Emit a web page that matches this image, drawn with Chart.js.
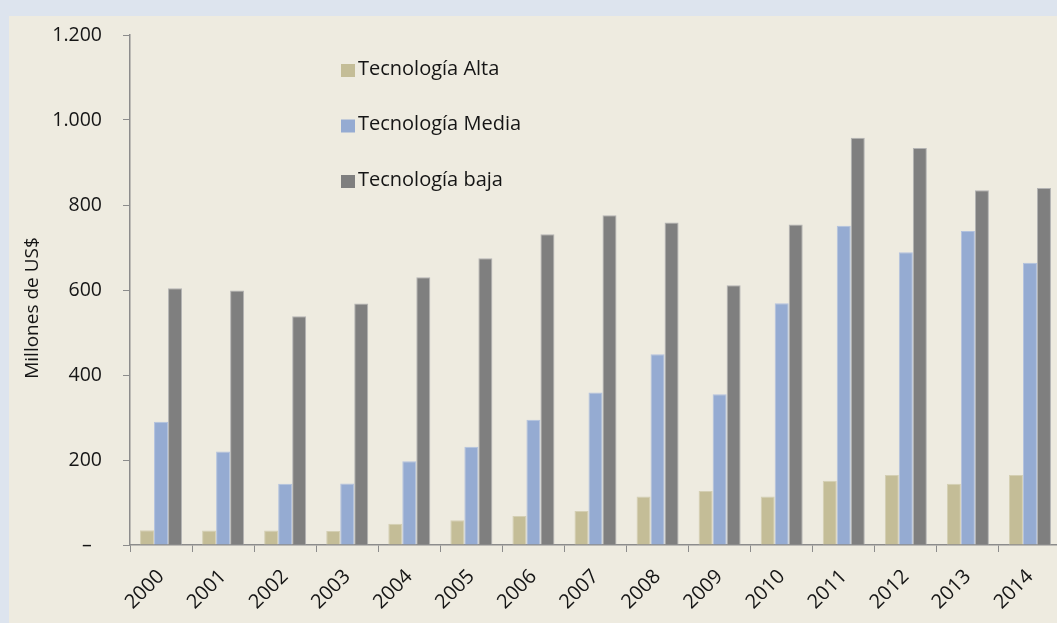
<!DOCTYPE html>
<html><head><meta charset="utf-8">
<script src="https://cdn.jsdelivr.net/npm/chart.js@4.4.0/dist/chart.umd.min.js"></script>
<style>
html,body{margin:0;padding:0;width:1057px;height:623px;overflow:hidden;background:#dde4ee;}
#panel{position:absolute;left:9px;top:16px;width:1048px;height:607px;background:#eeebe0;}
#wrap{position:absolute;left:0;top:0;width:1070px;height:623px;}
canvas{display:block;}
</style></head><body>
<div id="panel"></div>
<div id="wrap"><canvas id="c" width="1070" height="623" style="width:1070px;height:623px"></canvas></div>
<script>
const years = ['2000','2001','2002','2003','2004','2005','2006','2007','2008','2009','2010','2011','2012','2013','2014'];
const altaValues  = [35, 34, 34, 33, 50, 58, 68, 80, 114, 127, 114, 151, 165, 144, 165];
const mediaValues = [290, 220, 144, 145, 197, 231, 295, 359, 449, 355, 569, 751, 689, 739, 664];
const bajaValues  = [604, 599, 538, 568, 630, 675, 731, 776, 759, 611, 754, 958, 934, 835, 840];
const seriesNames = ['Tecnología Alta', 'Tecnología Media', 'Tecnología baja'];
const yTitle = 'Millones de US$';

const FONT = "'Open Sans', 'DejaVu Sans', sans-serif";
const TXT = '#151515';
const AXIS = '#8c8c8c';

const fmt = v => v === 0 ? '–  ' : String(v).replace(/\B(?=(\d{3})+(?!\d))/g, '.');

const yTitlePlugin = {
  id: 'yTitle',
  afterDraw(chart) {
    const ctx = chart.ctx;
    ctx.save();
    ctx.translate(33, 308);
    ctx.rotate(-Math.PI / 2);
    ctx.font = "19px " + FONT;
    ctx.fillStyle = TXT;
    ctx.textAlign = 'center';
    ctx.textBaseline = 'middle';
    ctx.fillText(yTitle, 0, 0);
    ctx.restore();
  }
};

const legendPlugin = {
  id: 'insideLegend',
  afterDraw(chart) {
    const ctx = chart.ctx;
    ctx.save();
    chart.data.datasets.forEach((ds, i) => {
      const top = 64 + 55.5 * i;
      ctx.fillStyle = ds.backgroundColor;
      ctx.fillRect(341, top, 14, 13);
      ctx.font = "20px " + FONT;
      ctx.fillStyle = TXT;
      ctx.textAlign = 'left';
      ctx.textBaseline = 'alphabetic';
      ctx.fillText(ds.label, 358, top + 10.5);
    });
    ctx.restore();
  }
};

new Chart(document.getElementById('c'), {
  type: 'bar',
  data: {
    labels: years,
    datasets: [
      { label: seriesNames[0], data: altaValues,  backgroundColor: '#c4bd97', borderColor: '#d4cfb3', borderWidth: 1 },
      { label: seriesNames[1], data: mediaValues, backgroundColor: '#95abd2', borderColor: '#b3c2de', borderWidth: 1 },
      { label: seriesNames[2], data: bajaValues,  backgroundColor: '#7f7f7f', borderColor: '#b3b3b3', borderWidth: 1 }
    ]
  },
  options: {
    responsive: false,
    animation: false,
    devicePixelRatio: 1,
    layout: { padding: { left: 0, top: 35, right: 9, bottom: 0 } },
    datasets: { bar: { categoryPercentage: 0.677, barPercentage: 1 } },
    plugins: { legend: { display: false }, tooltip: { enabled: false } },
    scales: {
      x: {
        grid: { offset: true, drawOnChartArea: false, tickLength: 7, color: AXIS, lineWidth: 1 },
        border: { color: AXIS, width: 1.5 },
        ticks: { minRotation: 45, maxRotation: 45, autoSkip: false, padding: 13, color: TXT, font: { family: FONT, size: 20 } },
        afterFit(s) { s.height = 78; }
      },
      y: {
        min: 0, max: 1200,
        grid: { drawOnChartArea: false, tickLength: 7, color: AXIS, lineWidth: 1 },
        border: { color: AXIS, width: 1.5 },
        ticks: { stepSize: 200, padding: 21, color: TXT, font: { family: FONT, size: 19.5 }, callback: v => fmt(v) },
        afterFit(s) { s.width = 130; }
      }
    }
  },
  plugins: [yTitlePlugin, legendPlugin]
});
</script>
</body></html>
